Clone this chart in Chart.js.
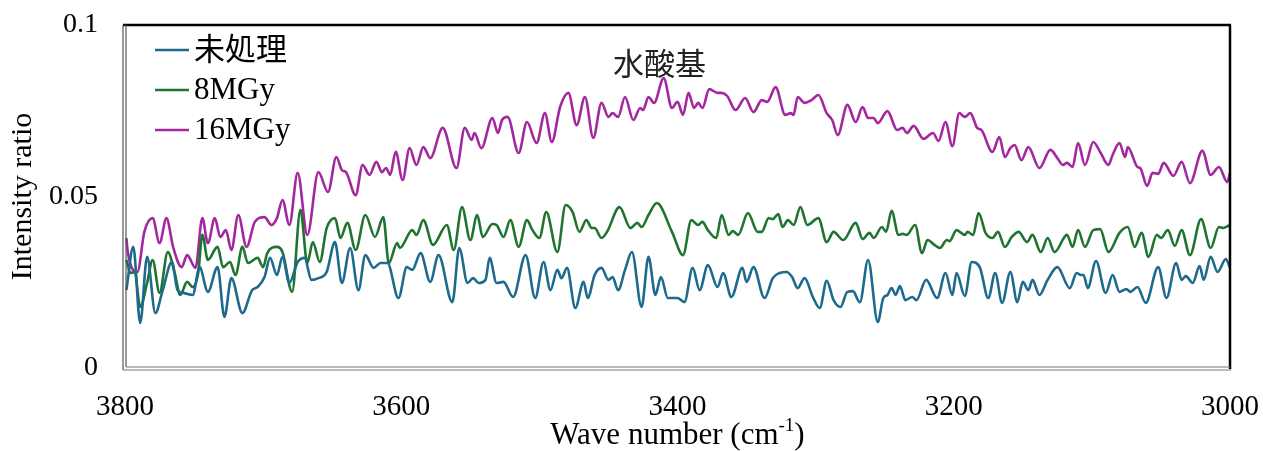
<!DOCTYPE html>
<html>
<head>
<meta charset="utf-8">
<script src="https://cdn.jsdelivr.net/npm/chart.js@4.4.0/dist/chart.umd.min.js"></script>
<style>
html,body{margin:0;padding:0;background:#fff;}
#c{display:block;}
</style>
</head>
<body>
<canvas id="c" width="1263" height="451"></canvas>
<script>
// ---- data ----
const seriesNames = ['未処理', '8MGy', '16MGy'];
const xTicks = [3800, 3600, 3400, 3200, 3000];
const xTickLabels = ['3800', '3600', '3400', '3200', '3000'];
const yTicks = [0, 0.05, 0.1];
const yTickLabels = ['0', '0.05', '0.1'];
const xTitle = 'Wave number (cm';
const xTitleSup = '-1';
const yTitle = 'Intensity ratio';
const noteText = '水酸基';
const noteX = 3413;
const noteY = 0.0889;

const wnBlue = [3799,3794,3789,3784,3778,3773,3766,3762,3758,3751,3746,3740,3733,3728,3723,3715,3708,3704,3699,3695,3690,3686,3681,3675,3670,3665,3660,3654,3648,3643,3637,3631,3626,3620,3615,3610,3602,3596,3592,3586,3579,3573,3563,3558,3552,3548,3544,3539,3536,3531,3526,3519,3510,3503,3497,3492,3487,3484,3480,3474,3468,3465,3460,3455,3450,3447,3443,3438,3433,3426,3421,3416,3412,3407,3400,3395,3389,3384,3378,3371,3367,3361,3353,3350,3345,3337,3331,3326,3321,3317,3313,3308,3302,3297,3292,3287,3282,3277,3273,3268,3262,3255,3251,3248,3245,3242,3239,3235,3230,3227,3220,3212,3206,3201,3198,3192,3187,3181,3175,3170,3165,3159,3154,3150,3146,3143,3138,3132,3125,3116,3111,3108,3106,3103,3097,3090,3085,3080,3075,3072,3067,3061,3052,3046,3039,3035,3032,3027,3022,3019,3014,3009,3003,3000];
const valBlue = [0.0227,0.0353,0.0131,0.0324,0.0160,0.0222,0.0309,0.0227,0.0219,0.0213,0.0294,0.0222,0.0294,0.0149,0.0262,0.0160,0.0227,0.0236,0.0265,0.0321,0.0271,0.0324,0.0248,0.0309,0.0321,0.0257,0.0262,0.0280,0.0367,0.0248,0.0350,0.0227,0.0329,0.0292,0.0306,0.0306,0.0204,0.0294,0.0286,0.0335,0.0251,0.0329,0.0192,0.0350,0.0248,0.0262,0.0248,0.0257,0.0321,0.0248,0.0251,0.0207,0.0329,0.0204,0.0309,0.0227,0.0286,0.0262,0.0292,0.0175,0.0251,0.0204,0.0271,0.0292,0.0257,0.0265,0.0227,0.0286,0.0338,0.0178,0.0324,0.0213,0.0265,0.0204,0.0204,0.0192,0.0292,0.0227,0.0300,0.0236,0.0277,0.0207,0.0292,0.0251,0.0294,0.0204,0.0262,0.0277,0.0280,0.0265,0.0233,0.0262,0.0207,0.0175,0.0254,0.0198,0.0178,0.0222,0.0224,0.0192,0.0315,0.0134,0.0204,0.0213,0.0233,0.0213,0.0239,0.0198,0.0207,0.0198,0.0257,0.0204,0.0277,0.0213,0.0277,0.0210,0.0309,0.0292,0.0204,0.0277,0.0190,0.0280,0.0192,0.0251,0.0227,0.0257,0.0213,0.0257,0.0294,0.0233,0.0277,0.0271,0.0271,0.0233,0.0312,0.0219,0.0271,0.0222,0.0230,0.0222,0.0236,0.0190,0.0294,0.0204,0.0306,0.0257,0.0268,0.0248,0.0297,0.0257,0.0324,0.0280,0.0318,0.0292];

const wnGreen = [3799,3796,3793,3789,3784,3780,3775,3769,3764,3760,3755,3751,3747,3744,3740,3733,3729,3724,3720,3715,3711,3704,3700,3697,3690,3686,3679,3673,3668,3664,3659,3654,3648,3644,3639,3633,3626,3619,3613,3609,3603,3601,3592,3589,3584,3577,3567,3562,3556,3550,3545,3541,3534,3531,3526,3521,3515,3509,3505,3500,3495,3487,3481,3476,3471,3466,3462,3460,3455,3451,3442,3434,3429,3426,3421,3415,3404,3396,3390,3385,3382,3378,3372,3368,3363,3360,3356,3349,3342,3339,3334,3331,3327,3324,3320,3316,3311,3306,3298,3292,3287,3280,3271,3266,3261,3258,3252,3249,3245,3240,3237,3234,3228,3223,3219,3214,3210,3205,3203,3198,3192,3190,3186,3182,3177,3172,3168,3163,3158,3153,3147,3143,3137,3132,3127,3118,3114,3110,3105,3099,3094,3088,3080,3074,3069,3064,3059,3053,3050,3045,3040,3035,3029,3021,3014,3008,3005,3000];
const valGreen = [0.0315,0.0277,0.0280,0.0178,0.0248,0.0315,0.0219,0.0338,0.0277,0.0213,0.0251,0.0236,0.0277,0.0388,0.0315,0.0353,0.0294,0.0309,0.0271,0.0353,0.0306,0.0321,0.0294,0.0335,0.0353,0.0338,0.0222,0.0461,0.0306,0.0367,0.0309,0.0408,0.0437,0.0379,0.0423,0.0344,0.0446,0.0382,0.0440,0.0306,0.0364,0.0350,0.0402,0.0388,0.0431,0.0359,0.0417,0.0344,0.0469,0.0373,0.0446,0.0382,0.0420,0.0417,0.0382,0.0431,0.0353,0.0431,0.0402,0.0379,0.0455,0.0338,0.0475,0.0455,0.0397,0.0431,0.0408,0.0408,0.0379,0.0397,0.0469,0.0408,0.0423,0.0411,0.0446,0.0481,0.0397,0.0329,0.0431,0.0417,0.0426,0.0402,0.0379,0.0446,0.0388,0.0399,0.0388,0.0452,0.0397,0.0397,0.0437,0.0434,0.0449,0.0411,0.0431,0.0417,0.0469,0.0417,0.0437,0.0367,0.0397,0.0373,0.0423,0.0376,0.0394,0.0379,0.0411,0.0397,0.0458,0.0388,0.0391,0.0388,0.0417,0.0335,0.0373,0.0359,0.0350,0.0373,0.0370,0.0402,0.0388,0.0397,0.0388,0.0452,0.0394,0.0379,0.0397,0.0353,0.0382,0.0397,0.0367,0.0388,0.0338,0.0379,0.0338,0.0388,0.0353,0.0402,0.0353,0.0402,0.0405,0.0338,0.0394,0.0411,0.0353,0.0394,0.0324,0.0388,0.0379,0.0402,0.0356,0.0402,0.0329,0.0434,0.0350,0.0411,0.0408,0.0417];

const wnPurple = [3799,3798,3791,3786,3780,3775,3770,3765,3759,3755,3749,3744,3740,3735,3731,3727,3723,3718,3712,3706,3699,3694,3690,3686,3681,3675,3668,3660,3653,3647,3643,3640,3633,3628,3623,3618,3614,3611,3608,3604,3599,3594,3589,3584,3579,3570,3560,3554,3549,3547,3542,3534,3530,3527,3523,3515,3509,3502,3496,3491,3485,3479,3473,3467,3461,3455,3450,3447,3443,3438,3432,3427,3425,3421,3417,3410,3404,3400,3396,3392,3388,3385,3382,3377,3371,3368,3364,3358,3351,3345,3339,3335,3329,3322,3318,3316,3313,3308,3303,3298,3292,3288,3284,3277,3271,3266,3262,3258,3255,3248,3241,3237,3234,3229,3222,3215,3211,3206,3201,3196,3192,3188,3183,3180,3172,3167,3163,3159,3156,3151,3146,3138,3130,3125,3121,3118,3114,3110,3105,3099,3094,3088,3085,3080,3076,3074,3067,3065,3060,3056,3052,3048,3041,3035,3029,3020,3014,3008,3002,3000];
const valPurple = [0.0379,0.0338,0.0280,0.0397,0.0437,0.0364,0.0437,0.0350,0.0294,0.0329,0.0292,0.0437,0.0364,0.0437,0.0382,0.0402,0.0344,0.0446,0.0353,0.0426,0.0440,0.0417,0.0437,0.0490,0.0417,0.0569,0.0388,0.0571,0.0513,0.0615,0.0577,0.0571,0.0504,0.0592,0.0563,0.0601,0.0571,0.0583,0.0563,0.0630,0.0548,0.0641,0.0592,0.0644,0.0612,0.0700,0.0583,0.0700,0.0665,0.0685,0.0641,0.0729,0.0685,0.0723,0.0732,0.0627,0.0717,0.0656,0.0743,0.0659,0.0761,0.0802,0.0708,0.0790,0.0671,0.0773,0.0732,0.0743,0.0732,0.0790,0.0723,0.0758,0.0752,0.0790,0.0773,0.0845,0.0758,0.0776,0.0738,0.0802,0.0758,0.0773,0.0758,0.0813,0.0802,0.0802,0.0793,0.0752,0.0787,0.0746,0.0781,0.0776,0.0819,0.0738,0.0743,0.0738,0.0790,0.0773,0.0781,0.0796,0.0743,0.0723,0.0679,0.0767,0.0717,0.0761,0.0729,0.0729,0.0714,0.0749,0.0694,0.0700,0.0685,0.0706,0.0668,0.0685,0.0662,0.0717,0.0647,0.0743,0.0732,0.0743,0.0700,0.0694,0.0630,0.0673,0.0615,0.0641,0.0650,0.0606,0.0644,0.0583,0.0636,0.0612,0.0592,0.0598,0.0586,0.0656,0.0592,0.0659,0.0630,0.0592,0.0621,0.0656,0.0615,0.0644,0.0586,0.0583,0.0531,0.0569,0.0566,0.0598,0.0560,0.0601,0.0539,0.0633,0.0563,0.0586,0.0542,0.0569];

const colors = ['#1d6a8c', '#1e7430', '#a3289f'];

// ---- build ----
function pts(xs, ys) { return xs.map((x, i) => ({ x: x, y: ys[i] })); }
const SERIF = '"Liberation Serif", "Times New Roman", serif';
const CJK = '"Noto Sans CJK JP", "Noto Sans CJK SC", sans-serif';

const decor = {
  id: 'decor',
  afterDraw(chart) {
    const ctx = chart.ctx;
    const a = chart.chartArea;
    ctx.save();
    // frame
    ctx.lineCap = 'butt';
    ctx.strokeStyle = '#000';
    ctx.lineWidth = 2.5;
    ctx.beginPath(); ctx.moveTo(a.left - 2, a.top); ctx.lineTo(a.right + 1, a.top); ctx.stroke();
    ctx.beginPath(); ctx.moveTo(a.right, a.top); ctx.lineTo(a.right, a.bottom + 1); ctx.stroke();
    ctx.strokeStyle = '#555';
    ctx.lineWidth = 1.2;
    ctx.beginPath(); ctx.moveTo(a.left - 2, a.top); ctx.lineTo(a.left - 2, a.bottom + 2); ctx.stroke();
    ctx.beginPath(); ctx.moveTo(a.left + 1, a.top); ctx.lineTo(a.left + 1, a.bottom - 1); ctx.stroke();
    ctx.strokeStyle = '#777';
    ctx.beginPath(); ctx.moveTo(a.left - 2, a.bottom + 2); ctx.lineTo(a.right + 1, a.bottom + 2); ctx.stroke();
    ctx.beginPath(); ctx.moveTo(a.left + 1, a.bottom - 1); ctx.lineTo(a.right, a.bottom - 1); ctx.stroke();

    // legend
    ctx.textBaseline = 'middle';
    ctx.textAlign = 'left';
    const ly = [a.top + 25, a.top + 65, a.top + 105];
    chart.data.datasets.forEach((ds, i) => {
      ctx.strokeStyle = ds.borderColor;
      ctx.lineWidth = 2.5;
      ctx.beginPath(); ctx.moveTo(a.left + 30, ly[i]); ctx.lineTo(a.left + 64, ly[i]); ctx.stroke();
      ctx.fillStyle = '#000';
      ctx.font = (i === 0 ? '31px ' + CJK : '31px ' + SERIF);
      ctx.fillText(ds.label, a.left + 69, ly[i] + (i === 0 ? -2 : 1));
    });

    // note
    const xs = chart.scales.x, ys = chart.scales.y;
    ctx.font = '31px ' + CJK;
    ctx.textAlign = 'center';
    ctx.fillStyle = '#222';
    ctx.fillText(noteText, xs.getPixelForValue(noteX), ys.getPixelForValue(noteY));

    // y title
    ctx.save();
    ctx.translate(31, (a.top + a.bottom) / 2);
    ctx.rotate(-Math.PI / 2);
    ctx.font = '30px ' + SERIF;
    ctx.fillStyle = '#000';
    ctx.textAlign = 'center';
    ctx.textBaseline = 'alphabetic';
    ctx.fillText(yTitle, 0, 0);
    ctx.restore();

    // x title with superscript
    ctx.font = '31px ' + SERIF;
    ctx.fillStyle = '#000';
    ctx.textAlign = 'left';
    ctx.textBaseline = 'alphabetic';
    const w1 = ctx.measureText(xTitle).width;
    ctx.font = '19px ' + SERIF;
    const w2 = ctx.measureText(xTitleSup).width;
    ctx.font = '31px ' + SERIF;
    const w3 = ctx.measureText(')').width;
    const cx = (a.left + a.right) / 2;
    let x0 = cx - (w1 + w2 + w3) / 2;
    const by = 444;
    ctx.fillText(xTitle, x0, by);
    ctx.font = '19px ' + SERIF;
    ctx.fillText(xTitleSup, x0 + w1, by - 13);
    ctx.font = '31px ' + SERIF;
    ctx.fillText(')', x0 + w1 + w2, by);
    ctx.restore();
  }
};

new Chart(document.getElementById('c'), {
  type: 'line',
  data: {
    datasets: [
      { label: seriesNames[0], data: pts(wnBlue, valBlue), borderColor: colors[0] },
      { label: seriesNames[1], data: pts(wnGreen, valGreen), borderColor: colors[1] },
      { label: seriesNames[2], data: pts(wnPurple, valPurple), borderColor: colors[2] }
    ].map(d => Object.assign(d, { borderWidth: 2.6, pointRadius: 0, fill: false, cubicInterpolationMode: 'monotone' }))
  },
  options: {
    responsive: false,
    animation: false,
    events: [],
    layout: { padding: { top: 25, right: 33, left: 0, bottom: 0 } },
    plugins: { legend: { display: false }, tooltip: { enabled: false } },
    scales: {
      x: {
        type: 'linear', min: 3000, max: 3800, reverse: true,
        grid: { display: false, drawTicks: false }, border: { display: false },
        afterBuildTicks: s => { s.ticks = xTicks.map(v => ({ value: v })); },
        afterFit: s => { s.height = 83; s.paddingLeft = 0; s.paddingRight = 0; },
        ticks: { font: { family: SERIF, size: 29 }, color: '#000', padding: 22, maxRotation: 0, autoSkip: false,
          callback: (v, i) => xTickLabels[i] }
      },
      y: {
        min: 0, max: 0.1,
        grid: { display: false, drawTicks: false }, border: { display: false },
        afterBuildTicks: s => { s.ticks = yTicks.map(v => ({ value: v })); },
        afterFit: s => { s.width = 125; s.paddingTop = 0; s.paddingBottom = 0; },
        ticks: { font: { family: SERIF, size: 28 }, color: '#000', padding: 27, autoSkip: false,
          callback: (v, i) => yTickLabels[i] }
      }
    }
  },
  plugins: [decor]
});
</script>
</body>
</html>
